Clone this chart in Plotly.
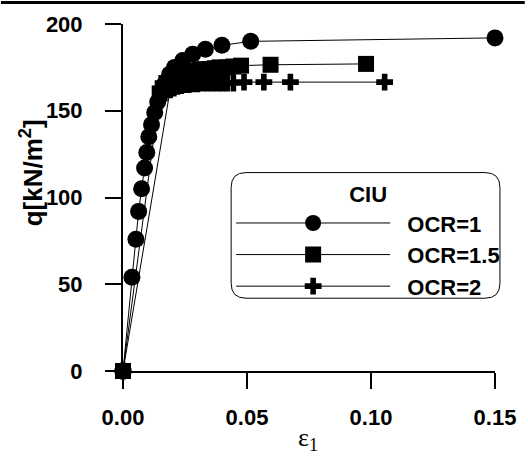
import plotly.graph_objects as go

# ---- data ----
eps_ocr1 = [0, 0.0036, 0.0052, 0.0063, 0.0075, 0.0087, 0.0096, 0.0104, 0.0115, 0.0128,
            0.0140, 0.0155, 0.0170, 0.0188, 0.0208, 0.0241, 0.0281, 0.0332, 0.0399, 0.0515, 0.150]
q_ocr1 = [0, 54, 76, 92, 105, 117, 126, 135, 142, 149,
          155, 161, 166, 171, 175, 179, 182.6, 185.4, 187.7, 190, 192]

eps_ocr15 = [0, 0.0148, 0.0160, 0.0175, 0.0190, 0.0210, 0.0230, 0.0250, 0.0270, 0.0290,
             0.0310, 0.0330, 0.0350, 0.0370, 0.0390, 0.0420, 0.0445, 0.0476, 0.0595, 0.0980]
q_ocr15 = [0, 160, 163, 166, 168, 170, 171, 172, 172.5, 173,
           173.5, 174, 174, 174.5, 175, 175, 175.5, 176, 176.5, 177]

eps_ocr2 = [0, 0.0190, 0.0205, 0.0220, 0.0235, 0.0250, 0.0265, 0.0280, 0.0300, 0.0320,
            0.0340, 0.0360, 0.0380, 0.0400, 0.0420, 0.0445, 0.0488, 0.0568, 0.0675, 0.1055]
q_ocr2 = [0, 162, 163, 164, 164.5, 165, 165, 165.5, 165.5, 166,
          166, 166, 166, 166, 166, 166, 166.5, 166.5, 166.5, 166.5]

series_names = ["OCR=1", "OCR=1.5", "OCR=2"]
x_ticks = [0.00, 0.05, 0.10, 0.15]
x_tick_labels = ["0.00", "0.05", "0.10", "0.15"]
y_ticks = [0, 50, 100, 150, 200]

# ---- figure ----
W, H = 528, 458
ML, MR, MT, MB = 123, 30, 23, 87
PW, PH = W - ML - MR, H - MT - MB


def px2paper_x(px):
    return (px - ML) / PW


def px2paper_y(py):
    return (H - MB - py) / PH


FONT = "Liberation Sans, Arial, sans-serif"
PAD = "\u00a0\u00a0"

fig = go.Figure()
line_style = dict(color="black", width=1)
fig.add_trace(go.Scatter(x=eps_ocr1, y=q_ocr1, name=PAD + series_names[0], mode="lines+markers",
                         line=line_style, cliponaxis=False,
                         marker=dict(symbol="circle", size=17, color="black")))
fig.add_trace(go.Scatter(x=eps_ocr15, y=q_ocr15, name=PAD + series_names[1], mode="lines+markers",
                         line=line_style, cliponaxis=False,
                         marker=dict(symbol="square", size=16, color="black")))
fig.add_trace(go.Scatter(x=eps_ocr2, y=q_ocr2, name=PAD + series_names[2], mode="lines+markers",
                         line=line_style, cliponaxis=False,
                         marker=dict(symbol="cross", size=14, color="black")))

tickfont = dict(family=FONT, size=22, color="black", weight="bold")

fig.update_xaxes(range=[0, 0.15], tickvals=x_ticks, ticktext=x_tick_labels,
                 showline=True, linecolor="black", linewidth=2, mirror=False,
                 ticks="outside", ticklen=16, tickwidth=2, tickcolor="black",
                 showgrid=False, zeroline=False, tickfont=tickfont, ticklabelstandoff=10)
fig.update_yaxes(range=[0, 200], tickvals=y_ticks,
                 showline=True, linecolor="black", linewidth=2, mirror=False,
                 ticks="outside", ticklen=16, tickwidth=2, tickcolor="black",
                 showgrid=False, zeroline=False, tickfont=tickfont, ticklabelstandoff=18)

# legend box (rounded rectangle) in paper coords
x0, x1 = px2paper_x(232), px2paper_x(503)
y1, y0 = px2paper_y(172), px2paper_y(298)
rx, ry = 15 / PW, 15 / PH
path = (f"M{x0+rx},{y1} L{x1-rx},{y1} Q{x1},{y1} {x1},{y1-ry} "
        f"L{x1},{y0+ry} Q{x1},{y0} {x1-rx},{y0} L{x0+rx},{y0} "
        f"Q{x0},{y0} {x0},{y0+ry} L{x0},{y1-ry} Q{x0},{y1} {x0+rx},{y1} Z")

shapes = [
    dict(type="path", xref="paper", yref="paper", path=path,
         line=dict(color="black", width=1), fillcolor="rgba(0,0,0,0)"),
    dict(type="line", xref="paper", yref="paper",
         x0=px2paper_x(0), x1=px2paper_x(W), y0=px2paper_y(1.5), y1=px2paper_y(1.5),
         line=dict(color="black", width=3)),
]

annotations = [
    dict(text="<b>q[kN/m<sup>2</sup>]</b>", xref="paper", yref="paper",
         x=px2paper_x(31), y=px2paper_y(172), showarrow=False, textangle=-90,
         font=dict(family=FONT, size=26, color="black"),
         xanchor="center", yanchor="middle"),
    dict(text="ε<sub>1</sub>", xref="paper", yref="paper",
         x=px2paper_x(309), y=px2paper_y(439), showarrow=False,
         font=dict(family="Liberation Serif, serif", size=26, color="black"),
         xanchor="center", yanchor="middle"),
]

fig.update_layout(
    width=W, height=H,
    margin=dict(l=ML, r=MR, t=MT, b=MB),
    plot_bgcolor="white", paper_bgcolor="white",
    shapes=shapes, annotations=annotations,
    showlegend=True,
    legend=dict(x=px2paper_x(232), y=px2paper_y(173), xanchor="left", yanchor="top",
                bgcolor="rgba(0,0,0,0)", borderwidth=0, itemwidth=154,
                tracegroupgap=0,
                title=dict(text="<b>CIU</b>", side="top center",
                           font=dict(family=FONT, size=22, color="black")),
                font=dict(family=FONT, size=22, color="black", weight="bold")),
)

fig.write_html("out.html")
